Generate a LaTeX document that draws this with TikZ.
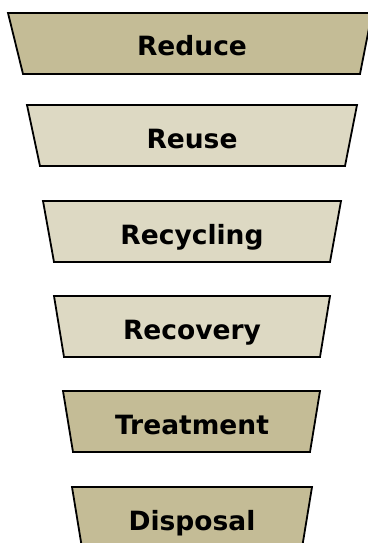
\documentclass[tikz,border=0pt]{standalone}
\usepackage{fontspec}
\setmainfont{DejaVu Sans}
\definecolor{tierdark}{RGB}{196,188,150}
\definecolor{tierlight}{RGB}{221,217,195}
\begin{document}
\begin{tikzpicture}[x=1pt,y=-1pt,
  tier/.style={draw=black,line width=1.8pt,line join=miter},
  tierlabel/.style={anchor=base,font=\bfseries\fontsize{26.5}{30}\selectfont,inner sep=0pt}]
\useasboundingbox (0,0) rectangle (367,543);
% top y, left top x, right top x, left bottom x, right bottom x, fill, label, name
\foreach \yt/\xa/\xb/\xc/\xd/\col/\lbl/\nm in {
   13/8/372/23/360/tierdark/Reduce/reduce,
  105/27/357/40/345/tierlight/Reuse/reuse,
  201/43/341/54/330/tierlight/Recycling/recycling,
  296/54/330/64/320/tierlight/Recovery/recovery,
  391/63/320/73/310/tierdark/Treatment/treatment,
  487/72/312/82/302/tierdark/Disposal/disposal}{
  \pgfmathsetmacro{\yb}{\yt+61}
  \pgfmathsetmacro{\yl}{\yt+43}
  \draw[tier,fill=\col] (\xa,\yt) -- (\xb,\yt) -- (\xd,\yb) -- (\xc,\yb) -- cycle;
  \node[tierlabel] (\nm) at (192,\yl) {\lbl};
}
\end{tikzpicture}
\end{document}
